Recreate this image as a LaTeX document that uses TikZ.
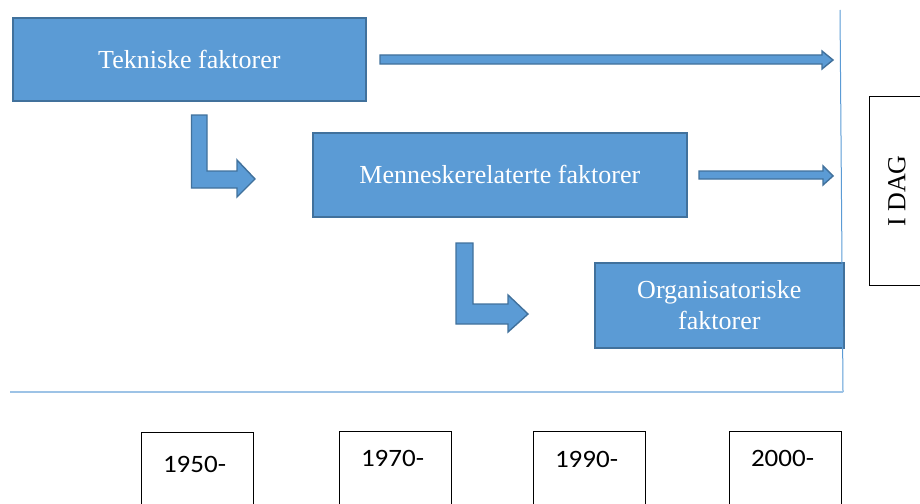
\documentclass[tikz,border=0pt]{standalone}
\usepackage{fontspec}
\setmainfont{Liberation Serif}
\newfontfamily\yearfont{Carlito}
\definecolor{boxblue}{HTML}{5B9BD5}
\definecolor{edgeblue}{HTML}{41719C}
\definecolor{lineblue}{HTML}{9DC3E6}
\begin{document}
\begin{tikzpicture}[x=1pt,y=-1pt,
  factorbox/.style={draw=edgeblue,line width=1.6pt,fill=boxblue,text=white,
    font=\fontsize{26}{31}\selectfont,align=center,inner sep=0pt},
  blockarrow/.style={draw=edgeblue,line width=1.4pt,fill=boxblue,line join=miter},
  axisline/.style={draw=lineblue,line width=1.6pt},
  yearbox/.style={draw=black,line width=1pt,minimum width=112pt,minimum height=90pt,
    inner sep=0pt,anchor=north west},
  yeartext/.style={font=\yearfont\fontsize{25}{30}\selectfont,anchor=center,xscale=1.08},
  todaybox/.style={draw=black,line width=1.2pt,anchor=north west,inner sep=0pt,
    minimum width=60pt,minimum height=189pt}]
\useasboundingbox (0,0) rectangle (920,503);
\clip (0,0) rectangle (920,503);

% factor boxes
\node[factorbox,minimum width=353pt,minimum height=83pt,anchor=north west] (tek) at (12,17) {Tekniske faktorer};
\node[factorbox,minimum width=374pt,minimum height=84pt,anchor=north west] (men) at (312,132) {Menneskerelaterte faktorer};
\node[factorbox,minimum width=249pt,minimum height=85pt,anchor=north west] (org) at (594,262) {Organisatoriske\\faktorer};

% time frame
\coordinate (vtop) at (840,10);
\coordinate (corner) at (843,392);
\coordinate (hstart) at (10,392);
\draw[draw=boxblue,line width=1pt] (vtop) -- (corner);
\draw[axisline] (hstart) -- (corner);

% straight block arrows toward today
\draw[blockarrow] (380,55) -- (822,55) -- (822,51) -- (833,60) -- (822,69) -- (822,64) -- (380,64) -- cycle;
\draw[blockarrow] (699,171) -- (823,171) -- (823,166) -- (833,176) -- (823,185) -- (823,179) -- (699,179) -- cycle;

% bent block arrows between the factor levels
\draw[blockarrow] (191.5,115) -- (207,115) -- (207,171) -- (237,171) -- (237,160) -- (255,179)
  -- (237,197) -- (237,188) -- (191.5,188) -- cycle;
\draw[blockarrow] (456,243) -- (473,243) -- (473,304) -- (508,304) -- (508,295) -- (528,314)
  -- (508,332) -- (508,324) -- (456,324) -- cycle;

% today box
\node[todaybox] (idag) at (869,96) {};
\node[rotate=90,font=\fontsize{26}{29}\selectfont] at (897,191) {I DAG};

% decade boxes
\node[yearbox] (y1950) at (141,432) {};
\node[yearbox] (y1970) at (339,431) {};
\node[yearbox] (y1990) at (533,431) {};
\node[yearbox] (y2000) at (729,431) {};
\node[yeartext] at ([xshift=-3pt,yshift=-32pt]y1950.north) {1950-};
\node[yeartext] at ([xshift=-3pt,yshift=-27pt]y1970.north) {1970-};
\node[yeartext] at ([xshift=-3pt,yshift=-28pt]y1990.north) {1990-};
\node[yeartext] at ([xshift=-3pt,yshift=-27pt]y2000.north) {2000-};
\end{tikzpicture}
\end{document}
